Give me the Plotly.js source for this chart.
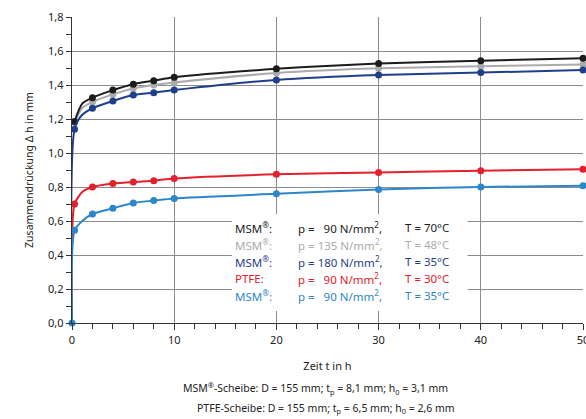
<!DOCTYPE html>
<html>
<head>
<meta charset="utf-8">
<script src="https://cdn.plot.ly/plotly-3.0.1.min.js"></script>
<style>html,body{margin:0;padding:0;background:#fff;}#chart{width:586px;height:419px;}</style>
</head>
<body>
<div id="chart"></div>
<script>
// Time points (h); t = 1 is a line-only point (no marker)
const timeBlack = [0.25, 1, 2, 4, 6, 8, 10, 20, 30, 40, 50];
const msm90_70 = [1.185, 1.29, 1.325, 1.37, 1.405, 1.425, 1.445, 1.495, 1.527, 1.543, 1.557];
const timeGray = [0.25, 1, 2, 4, 6, 8, 10, 20, 30, 40, 50];
const msm135_48 = [1.18, 1.265, 1.30, 1.345, 1.38, 1.40, 1.415, 1.47, 1.498, 1.51, 1.52];
const timeDark = [0, 0.25, 1, 2, 4, 6, 8, 10, 20, 30, 40, 50];
const msm180_35 = [0, 1.14, 1.225, 1.263, 1.306, 1.341, 1.355, 1.37, 1.43, 1.459, 1.473, 1.488];
const timeRed = [0, 0.25, 1, 2, 4, 6, 8, 10, 20, 30, 40, 50];
const ptfe90_30 = [0.48, 0.70, 0.77, 0.80, 0.82, 0.83, 0.837, 0.85, 0.875, 0.886, 0.896, 0.904];
const timeLight = [0, 0.25, 1, 2, 4, 6, 8, 10, 20, 30, 40, 50];
const msm90_35 = [0, 0.545, 0.60, 0.641, 0.675, 0.706, 0.72, 0.733, 0.76, 0.786, 0.80, 0.808];

const markerTimes = [0.25, 2, 4, 6, 8, 10, 20, 30, 40, 50];
const extraMarkerLight = [0];

const legendLabels = ['MSM<sup>®</sup>:', 'MSM<sup>®</sup>:', 'MSM<sup>®</sup>:', 'PTFE:', 'MSM<sup>®</sup>:'];
const legendP = ['p =\u00a0\u00a0 90 N/mm<sup>2</sup>,', 'p = 135 N/mm<sup>2</sup>,', 'p = 180 N/mm<sup>2</sup>,', 'p =\u00a0\u00a0 90 N/mm<sup>2</sup>,', 'p =\u00a0\u00a0 90 N/mm<sup>2</sup>,'];
const legendT = ['T = 70\u00b0C', 'T = 48\u00b0C', 'T = 35\u00b0C', 'T = 30\u00b0C', 'T = 35\u00b0C'];

const colors = ['#1c1c1c', '#ababab', '#1f3e8c', '#e3202b', '#2b87c9'];
const series = [
  {t: timeBlack, y: msm90_70},
  {t: timeGray, y: msm135_48},
  {t: timeDark, y: msm180_35},
  {t: timeRed, y: ptfe90_30},
  {t: timeLight, y: msm90_35}
];

const traces = [];
// draw order: gray, black, dark blue, red, light blue
[1, 0, 2, 3, 4].forEach(i => {
  const s = series[i];
  traces.push({x: s.t, y: s.y, mode: 'lines', type: 'scatter',
    line: {color: colors[i], width: 2, shape: 'spline', smoothing: 0.7},
    hoverinfo: 'skip', showlegend: false, cliponaxis: false});
  const mt = i === 4 ? extraMarkerLight.concat(markerTimes) : markerTimes;
  const mx = [], my = [];
  s.t.forEach((t, k) => { if (mt.includes(t)) { mx.push(t); my.push(s.y[k]); } });
  traces.push({x: mx, y: my, mode: 'markers', type: 'scatter',
    marker: {color: colors[i], size: 7}, showlegend: false, cliponaxis: false});
});

const font = 'Noto Sans, Open Sans, sans-serif';
const annotations = [];
const rowY = [0.559, 0.459, 0.359, 0.259, 0.159];
for (let r = 0; r < 5; r++) {
  [[15.75, legendLabels[r]], [21.9, legendP[r]], [32.4, legendT[r]]].forEach(([x, txt]) => {
    annotations.push({x: x, y: rowY[r], xref: 'x', yref: 'y', text: txt, showarrow: false,
      xanchor: 'left', yanchor: 'middle', font: {family: font, size: 11.5, color: colors[r]}});
  });
}
annotations.push({x: 0.477, y: -0.215, xref: 'paper', yref: 'paper', xanchor: 'center', yanchor: 'middle', showarrow: false,
  text: 'MSM<sup>®</sup>-Scheibe: D = 155 mm; t<sub>p</sub> = 8,1 mm; h<sub>0</sub> = 3,1 mm',
  font: {family: font, size: 10.5, color: '#222'}});
annotations.push({x: 0.497, y: -0.28, xref: 'paper', yref: 'paper', xanchor: 'center', yanchor: 'middle', showarrow: false,
  text: 'PTFE-Scheibe: D = 155 mm; t<sub>p</sub> = 6,5 mm; h<sub>0</sub> = 2,6 mm',
  font: {family: font, size: 10.5, color: '#222'}});

const layout = {
  width: 586, height: 419,
  margin: {l: 72, r: 3, t: 17, b: 96},
  paper_bgcolor: '#fff', plot_bgcolor: '#fff',
  separators: ',.',
  font: {family: font, size: 11, color: '#222'},
  showlegend: false,
  xaxis: {
    range: [0, 50], tickvals: [0, 10, 20, 30, 40, 50], ticks: 'outside', ticklen: 6, tickcolor: '#333',
    ticklabeloverflow: 'allow',
    showgrid: true, gridcolor: '#8c8c8c', gridwidth: 1, zeroline: false,
    showline: true, linecolor: '#333', linewidth: 1.3,
    minor: {dtick: 2, ticks: 'outside', ticklen: 5, tickcolor: '#333', showgrid: false},
    tickfont: {family: font, size: 11, color: '#222'},
    title: {text: 'Zeit t in h', font: {family: font, size: 11, color: '#222'}, standoff: 16}
  },
  yaxis: {
    range: [0, 1.8], dtick: 0.2, tickformat: '.1f', ticks: 'outside', ticklen: 5, tickcolor: '#333',
    showgrid: true, gridcolor: '#8c8c8c', gridwidth: 1, zeroline: false,
    showline: true, linecolor: '#333', linewidth: 1.3,
    minor: {dtick: 0.1, ticks: 'outside', ticklen: 5, tickcolor: '#333', showgrid: false},
    tickfont: {family: font, size: 11, color: '#222'},
    title: {text: 'Zusammendrückung \u0394 h in mm', font: {family: font, size: 10.5, color: '#222'}, standoff: 12}
  },
  shapes: [
    {type: 'rect', xref: 'x', yref: 'y', x0: 15.65, x1: 38.7, y0: 0.07, y1: 0.64,
      fillcolor: '#fff', line: {width: 0}, layer: 'between'}
  ],
  annotations: annotations
};

Plotly.newPlot('chart', traces, layout, {displayModeBar: false, staticPlot: true});
</script>
</body>
</html>
